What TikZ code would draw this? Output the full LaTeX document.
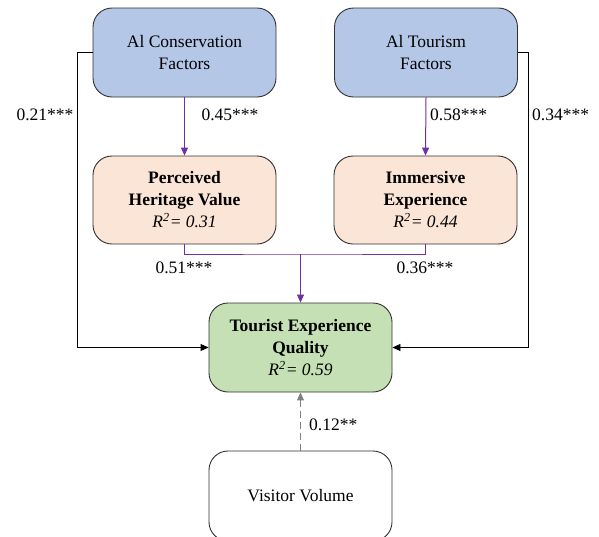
\documentclass[tikz,border=0pt]{standalone}
\usepackage{fontspec}
\setmainfont{Liberation Serif}
\usetikzlibrary{arrows.meta}
\definecolor{factorblue}{HTML}{B4C7E7}
\definecolor{mediatorpeach}{HTML}{FBE5D6}
\definecolor{outcomegreen}{HTML}{C5E0B4}
\definecolor{pathpurple}{HTML}{7030A0}
\definecolor{edgegray}{HTML}{303030}
\begin{document}
\begin{tikzpicture}[x=1pt,y=-1pt,
  every node/.style={font=\fontsize{17.5}{22}\selectfont},
  varbox/.style={draw=edgegray,line width=0.9pt,rounded corners=19pt,
    minimum width=183pt,minimum height=89pt,align=center,inner sep=2pt},
  coef/.style={inner sep=0pt},
  tip/.style={-{Triangle[length=8pt,width=7pt]}},
  direct/.style={draw=black,line width=0.9pt,tip},
  mediated/.style={draw=pathpurple,line width=1pt},
  control/.style={draw=gray,line width=1pt,dash pattern=on 7pt off 4pt,
    -{Triangle[length=8pt,width=7pt]}}]
\useasboundingbox (0,0) rectangle (599,536);

% predictors
\node[varbox,fill=factorblue] (cons) at (184.5,52.5) {Al Conservation\\Factors};
\node[varbox,fill=factorblue] (tour) at (426,52.5) {Al Tourism\\Factors};

% mediators
\node[varbox,fill=mediatorpeach,minimum height=88pt] (herit) at (184.5,200)
  {\textbf{Perceived}\\\textbf{Heritage Value}\\\textit{R\textsuperscript{2}= 0.31}};
\node[varbox,fill=mediatorpeach,minimum height=88pt] (immer) at (425.5,200)
  {\textbf{Immersive}\\\textbf{Experience}\\\textit{R\textsuperscript{2}= 0.44}};

% outcome
\node[varbox,fill=outcomegreen] (qual) at (300.5,347.5)
  {\textbf{Tourist Experience}\\\textbf{Quality}\\\textit{R\textsuperscript{2}= 0.59}};

% control variable
\node[varbox,fill=white,minimum height=90pt] (visit) at (300.5,496) {Visitor Volume};

% direct paths
\draw[direct] (cons.west) -- ++(-15,0) |- (qual.west);
\draw[direct] (tour.east) -- ++(10,0) |- (qual.east);

% paths to the mediators
\draw[mediated,tip] (cons.south) -- (herit.north);
\draw[mediated,tip] (tour.south) -- (immer.north);

% mediators joined into the outcome
\coordinate (join) at (300.5,254);
\draw[mediated] (herit.south) |- (join) -| (immer.south);
\draw[mediated,tip] (join) -- (qual.north);

% control path
\draw[control] (visit.north) -- (qual.south);

% coefficients
\node[coef] (c21) at (45,115) {0.21***};
\node[coef] (c45) at (230,115) {0.45***};
\node[coef,anchor=west] (c58) at (430,115) {0.58***};
\node[coef,anchor=west] (c34) at (532,115) {0.34***};
\node[coef] (c51) at (184,268) {0.51***};
\node[coef] (c36) at (425,268) {0.36***};
\node[coef,anchor=west] (c12) at (309,425) {0.12**};
\end{tikzpicture}
\end{document}
